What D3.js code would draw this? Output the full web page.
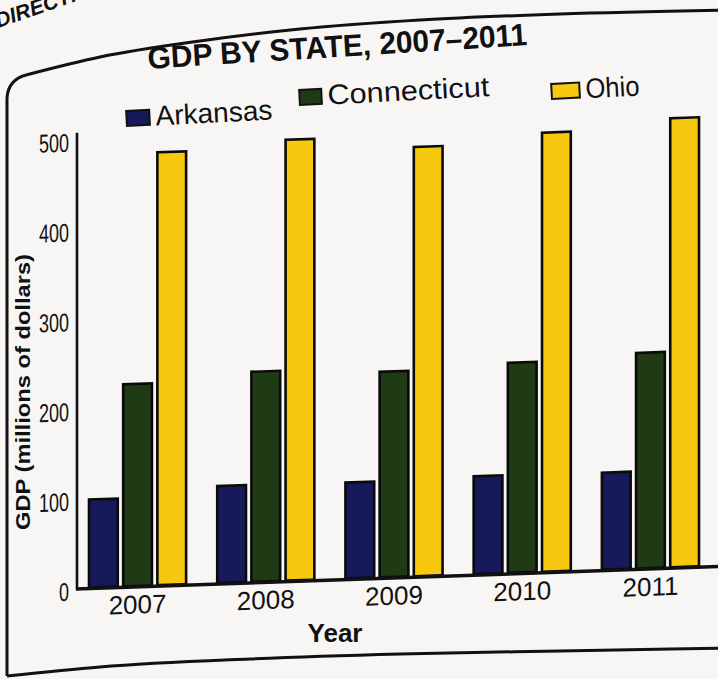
<!DOCTYPE html>
<html>
<head>
<meta charset="utf-8">
<script src="https://cdn.jsdelivr.net/npm/d3@7"></script>
<style>
  html, body { margin: 0; padding: 0; background: #f8f6f5; }
  svg { display: block; }
  text { font-family: "Liberation Sans", Arial, Helvetica, sans-serif; fill: #111; }
</style>
</head>
<body>
<svg id="chart" width="718" height="679"></svg>
<script>
// GDP by state, 2007–2011 (millions of dollars)
const years = ["2007", "2008", "2009", "2010", "2011"];
const series = ["Arkansas", "Connecticut", "Ohio"];
const arkansas = [98, 108, 107, 109, 108];
const connecticut = [225, 234, 229, 234, 240];
const ohio = [482, 491, 478, 489, 500];
const yTicks = [0, 100, 200, 300, 400, 500];
const seriesColors = ["#16195a", "#213a16", "#f6c90e"];

const valuesBySeries = [arkansas, connecticut, ohio];
const rows = years.map((yr, i) => ({
  year: yr,
  values: series.map((s, j) => ({ key: s, value: valuesBySeries[j][i] }))
}));

const svg = d3.select("#chart");

// page frame around the figure
const frameStroke = g => g.attr("fill", "none").attr("stroke", "#111").attr("stroke-width", 3);
svg.append("path").attr("d", "M7,676 L7,98 Q8,80 26,75").call(frameStroke);
const frameTop = [[26, 75], [100, 57], [200, 41], [300, 29], [420, 20], [560, 14], [730, 10]];
const frameBottom = [[7, 676], [100, 667], [250, 659], [400, 654], [560, 651], [730, 648]];
const frameLine = d3.line().curve(d3.curveMonotoneX);
svg.append("path").attr("d", frameLine(frameTop)).call(frameStroke);
svg.append("path").attr("d", frameLine(frameBottom)).call(frameStroke);

// heading fragment from the page above
svg.append("text")
  .attr("transform", "translate(-2,28) rotate(-19)")
  .style("font-size", "21px").style("font-weight", "bold").style("font-style", "italic")
  .text("DIRECTIONS");

// title
svg.append("text")
  .attr("transform", "translate(338,57) rotate(-3.6)")
  .attr("text-anchor", "middle")
  .attr("textLength", 380).attr("lengthAdjust", "spacingAndGlyphs")
  .style("font-size", "31px").style("font-weight", "bold")
  .text("GDP BY STATE, 2007\u20132011");

// legend
const legendX = d3.scaleOrdinal().domain(series).range([127, 300, 552]);
const legendY = d3.scaleOrdinal().domain(series).range([127, 106, 100]);
const legendTextLen = d3.scaleOrdinal().domain(series).range([117, 162, 54]);
const legendSwatchW = d3.scaleOrdinal().domain(series).range([23, 22, 28]);
const legendColor = d3.scaleOrdinal().domain(series).range(seriesColors);
const legend = svg.append("g");
const item = legend.selectAll("g.item").data(series).join("g")
  .attr("class", "item")
  .attr("transform", d => `translate(${legendX(d)},${legendY(d)}) rotate(-3)`);
item.append("rect")
  .attr("x", 0).attr("y", -16)
  .attr("width", d => legendSwatchW(d)).attr("height", 15)
  .attr("fill", d => legendColor(d))
  .attr("stroke", "#111").attr("stroke-width", 2);
item.append("text")
  .attr("x", d => legendSwatchW(d) + 6).attr("y", 0)
  .attr("textLength", d => legendTextLen(d)).attr("lengthAdjust", "spacingAndGlyphs")
  .style("font-size", "28px")
  .text(d => d);

// plot area, slightly sheared like the printed page
const plot = svg.append("g").attr("transform", "translate(77,588) skewY(-2)");

const x0 = d3.scaleBand().domain(years).range([11, 623]).paddingInner(0.227).paddingOuter(0);
const x1 = d3.scaleBand().domain(series).range([0, x0.bandwidth()]).paddingInner(0.1);
const y = d3.scaleLinear().domain([0, 500]).range([0, -449]);
const color = d3.scaleOrdinal().domain(series).range(seriesColors);

// bars
const groups = plot.selectAll("g.year").data(rows).join("g")
  .attr("class", "year")
  .attr("transform", d => `translate(${x0(d.year)},0)`);
groups.selectAll("rect").data(d => d.values).join("rect")
  .attr("x", d => x1(d.key) + 1)
  .attr("y", d => y(d.value))
  .attr("width", x1.bandwidth() - 2)
  .attr("height", d => -y(d.value))
  .attr("fill", d => color(d.key))
  .attr("stroke", "#0a0a0a").attr("stroke-width", 2.6);

// y axis
const yAxis = plot.append("g")
  .call(d3.axisLeft(y).tickValues(yTicks).tickSize(0).tickPadding(8));
yAxis.select(".domain").remove();
yAxis.selectAll("text")
  .attr("dy", "12px")
  .attr("textLength", d => String(d).length * 10)
  .attr("lengthAdjust", "spacingAndGlyphs")
  .style("font-size", "26px").style("font-family", "Liberation Sans, Arial, sans-serif").attr("fill", "#111");
plot.append("line")
  .attr("x1", 0).attr("x2", 0).attr("y1", y(0) + 2).attr("y2", y(507))
  .attr("stroke", "#111").attr("stroke-width", 2.6);

// x axis
const xAxis = plot.append("g")
  .call(d3.axisBottom(x0).tickSize(0).tickPadding(9));
xAxis.select(".domain").remove();
xAxis.selectAll("text")
  .attr("dy", "0.72em")
  .style("font-size", "26px").style("font-family", "Liberation Sans, Arial, sans-serif").attr("fill", "#111");
plot.append("line")
  .attr("x1", -1).attr("x2", 660).attr("y1", 1).attr("y2", 1)
  .attr("stroke", "#111").attr("stroke-width", 3.5);

// axis titles
svg.append("text")
  .attr("transform", "translate(30,392) rotate(-90)")
  .attr("text-anchor", "middle")
  .attr("textLength", 276).attr("lengthAdjust", "spacingAndGlyphs")
  .style("font-size", "21px").style("font-weight", "bold")
  .text("GDP (millions of dollars)");
svg.append("text")
  .attr("x", 335).attr("y", 642)
  .attr("text-anchor", "middle")
  .style("font-size", "26px").style("font-weight", "bold")
  .text("Year");
</script>
</body>
</html>
